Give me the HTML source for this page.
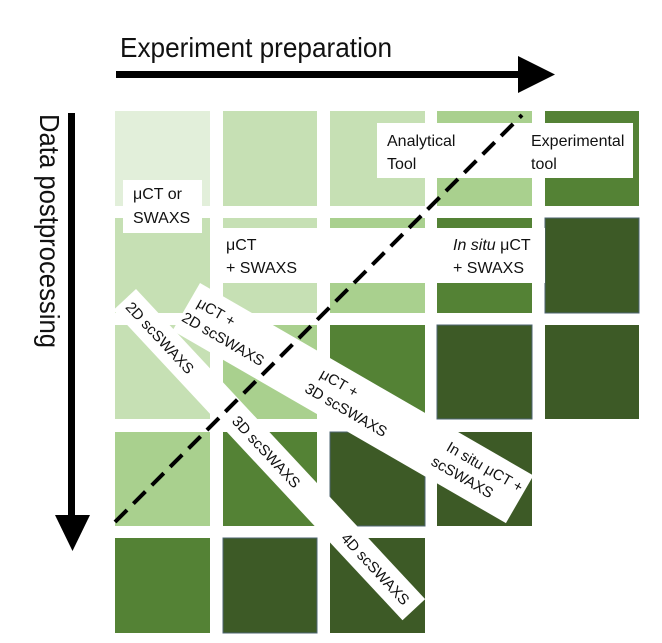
<!DOCTYPE html>
<html><head><meta charset="utf-8"><style>
html,body{margin:0;padding:0;background:#fff;width:662px;height:643px;overflow:hidden}
svg{display:block}
text{font-family:"Liberation Sans Narrow","Liberation Sans",sans-serif;fill:#111}
</style></head><body>
<svg width="662" height="643" viewBox="0 0 662 643" xmlns="http://www.w3.org/2000/svg">
<g>
<rect x="115" y="111" width="95" height="95" fill="#e2efda"/>
<rect x="223" y="111" width="94" height="95" fill="#c6e0b4"/>
<rect x="330" y="111" width="95" height="95" fill="#c6e0b4"/>
<rect x="437" y="111" width="95" height="95" fill="#a9d08e"/>
<rect x="545" y="111" width="94" height="95" fill="#548235"/>

<rect x="115" y="218" width="95" height="95" fill="#c6e0b4"/>
<rect x="223" y="218" width="94" height="95" fill="#c6e0b4"/>
<rect x="330" y="218" width="95" height="95" fill="#a9d08e"/>
<rect x="437" y="218" width="95" height="95" fill="#548235"/>
<rect x="545" y="218" width="94" height="95" fill="#3d5a26" stroke="#4d6470" stroke-width="1"/>

<rect x="115" y="325" width="95" height="94" fill="#c6e0b4"/>
<rect x="223" y="325" width="94" height="94" fill="#a9d08e"/>
<rect x="330" y="325" width="95" height="94" fill="#548235"/>
<rect x="437" y="325" width="95" height="94" fill="#3d5a26" stroke="#4d6470" stroke-width="1"/>
<rect x="545" y="325" width="94" height="94" fill="#3d5a26"/>

<rect x="115" y="432" width="95" height="94" fill="#a9d08e"/>
<rect x="223" y="432" width="94" height="94" fill="#548235"/>
<rect x="330" y="432" width="95" height="94" fill="#3d5a26" stroke="#4d6470" stroke-width="1"/>
<rect x="437" y="432" width="95" height="94" fill="#3d5a26"/>

<rect x="115" y="538" width="95" height="95" fill="#548235"/>
<rect x="223" y="538" width="94" height="95" fill="#3d5a26" stroke="#4d6470" stroke-width="1"/>
<rect x="330" y="538" width="95" height="95" fill="#3d5a26"/>
</g>

<rect x="123" y="180" width="79" height="53" fill="#fff"/>
<rect x="217" y="228" width="328" height="55" fill="#fff"/>
<rect x="377" y="123" width="256" height="55" fill="#fff"/>

<g font-size="16">
<text x="133" y="199">μCT or</text>
<text x="133" y="223">SWAXS</text>
<text x="226" y="250">μCT</text>
<text x="226" y="273">+ SWAXS</text>
<text x="453" y="250"><tspan font-style="italic">In situ</tspan> μCT</text>
<text x="453" y="273">+ SWAXS</text>
<text x="387" y="146">Analytical</text>
<text x="387" y="169">Tool</text>
<text x="531" y="146">Experimental</text>
<text x="531" y="169">tool</text>
</g>

<g transform="translate(136,289) rotate(47)">
<rect x="0" y="0" width="424" height="31" fill="#fff"/>
<g font-size="15">
<text x="6" y="21">2D scSWAXS</text>
<text x="162" y="21">3D scSWAXS</text>
<text x="322" y="21">4D scSWAXS</text>
</g>
</g>

<g transform="translate(200,283) rotate(30)">
<rect x="0" y="0" width="385" height="55" fill="#fff"/>
<g font-size="15">
<text x="8" y="22">μCT +</text>
<text x="2" y="42">2D scSWAXS</text>
<text x="150" y="22">μCT +</text>
<text x="144" y="42">3D scSWAXS</text>
<text x="296" y="22">In situ μCT +</text>
<text x="290" y="42">scSWAXS</text>
</g>
</g>

<line x1="115" y1="522" x2="522" y2="115" stroke="#000" stroke-width="4" stroke-dasharray="17,9"/>

<rect x="116" y="71" width="406" height="7" fill="#000"/>
<polygon points="518,56 555,74.5 518,93" fill="#000"/>
<rect x="68" y="113" width="7" height="406" fill="#000"/>
<polygon points="55,515 90,515 72.5,551" fill="#000"/>

<text x="120" y="57" font-size="28" textLength="272" lengthAdjust="spacingAndGlyphs">Experiment preparation</text>
<text transform="translate(40,114) rotate(90)" x="0" y="0" font-size="28" textLength="234" lengthAdjust="spacingAndGlyphs">Data postprocessing</text>
</svg>
</body></html>
